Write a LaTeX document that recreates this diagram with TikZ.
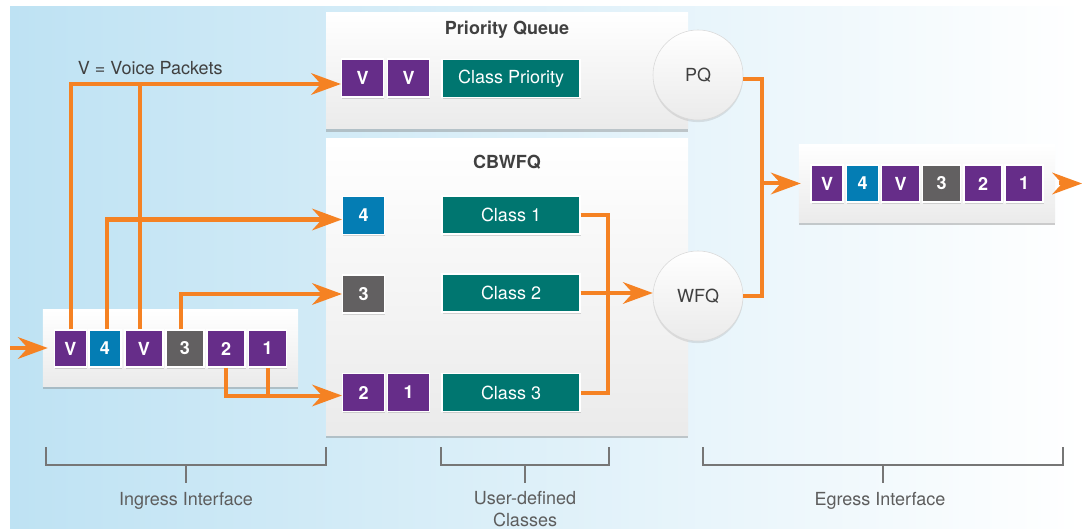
\documentclass[tikz,border=0pt]{standalone}
\usepackage{fontspec}
\setmainfont{TeX Gyre Heros}
\usetikzlibrary{arrows.meta}
\usetikzlibrary{shadows}

\definecolor{fondo}{RGB}{190,226,243}
\definecolor{morado}{RGB}{102,45,137}
\definecolor{azul}{RGB}{4,125,180}
\definecolor{gris}{RGB}{98,96,97}
\definecolor{verde}{RGB}{0,118,112}
\definecolor{naranja}{RGB}{245,130,35}
\definecolor{texto}{RGB}{64,64,64}
\definecolor{raya}{RGB}{118,118,118}

\newcommand{\letra}{\fontsize{12.8}{15.6}\selectfont}

\begin{document}
\begin{tikzpicture}[x=0.025cm,y=-0.025cm]
\tikzstyle{paquete}=[draw=white,line width=0.9pt,minimum height=0.925cm,text=white,font=\letra\bfseries,drop shadow={opacity=0.3,shadow xshift=0.6pt,shadow yshift=-1.2pt}]
\tikzstyle{chico}=[paquete,minimum width=0.8cm]
\tikzstyle{grande}=[paquete,minimum width=0.95cm]
\tikzstyle{cola}=[paquete,minimum width=1.05cm,minimum height=0.95cm]
\tikzstyle{clase}=[paquete,fill=verde,minimum width=3.45cm,minimum height=0.95cm,font=\letra]
\tikzstyle{contenedor}=[top color=white,bottom color=black!8,drop shadow={opacity=0.4,shadow xshift=0pt,shadow yshift=-2pt}]
\tikzstyle{circulo}=[circle,minimum size=2.25cm,draw=black!15,top color=white,bottom color=black!8,text=texto,font=\letra,drop shadow={opacity=0.2,shadow xshift=0pt,shadow yshift=-1.5pt}]
\tikzstyle{flecha}=[draw=naranja,line width=0.1cm,-{Stealth[length=0.75cm,width=0.55cm,inset=0.25cm,line width=0pt]}]
\tikzstyle{linea}=[draw=naranja,line width=0.1cm]
\tikzstyle{corchete}=[draw=raya,line width=1.1pt]
\tikzstyle{etiqueta}=[text=texto!85,font=\letra,align=center,inner sep=0pt]

% fondo
\useasboundingbox (0,0) rectangle (1082,530);
\fill[white] (0,0) rectangle (1082,530);
\shade[left color=fondo,right color=white] (10,7) rectangle (1082,528);

% colas
\shade[contenedor] (326,13) rectangle (688,129);
\node[font=\letra\bfseries,text=texto] (tpq) at (507,30) {Priority Queue};
\shade[contenedor] (326,139) rectangle (688,435);
\node[font=\letra\bfseries,text=texto] (tcb) at (507,162) {CBWFQ};

\node[contenedor,minimum width=6.375cm,minimum height=1.9cm] (ingreso) at (170.5,348) {};
\node[contenedor,minimum width=6.4cm,minimum height=1.925cm] (egreso) at (927,183.5) {};

% paquetes de entrada
\node[chico,fill=morado] (e1) at (70.5,348.5) {V};
\node[chico,fill=azul] (e2) at (105,348.5) {4};
\node[grande,fill=morado] (e3) at (144,348.5) {V};
\node[grande,fill=gris] (e4) at (185,348.5) {3};
\node[grande,fill=morado] (e5) at (226,348.5) {2};
\node[grande,fill=morado] (e6) at (267.5,348.5) {1};

% paquetes de salida
\node[chico,fill=morado] (s1) at (827,183.5) {V};
\node[chico,fill=azul] (s2) at (862.5,183.5) {4};
\node[grande,fill=morado] (s3) at (900.5,183.5) {V};
\node[grande,fill=gris] (s4) at (941.5,183.5) {3};
\node[grande,fill=morado] (s5) at (983,183.5) {2};
\node[grande,fill=morado] (s6) at (1024,183.5) {1};

% priority queue
\node[cola,fill=morado] (pv1) at (362.5,78) {V};
\node[cola,fill=morado] (pv2) at (408.5,78) {V};
\node[clase] (cp) at (511,78.5) {Class Priority};

% cbwfq
\node[cola,fill=azul] (q4) at (363.5,215.5) {4};
\node[cola,fill=gris] (q3) at (363.5,294) {3};
\node[cola,fill=morado] (q2) at (363.5,392.5) {2};
\node[cola,fill=morado] (q1) at (408.5,392.5) {1};
\node[clase] (k1) at (511,215) {Class 1};
\node[clase] (k2) at (511,293) {Class 2};
\node[clase] (k3) at (511,392.5) {Class 3};

\node[circulo] (pq) at (698,75) {PQ};
\node[circulo] (wfq) at (698,296) {WFQ};

\node[anchor=west,text=texto,font=\letra] (leyenda) at (73,68) {V = Voice Packets};

% flechas
\coordinate (entrada) at (10,348);
\draw[flecha] (entrada) -- ([xshift=0.125cm]ingreso.west);

\coordinate (vpq) at ([yshift=-0.15cm]pv1.west);
\draw[flecha] (e1.north) |- (vpq);
\draw[linea] ([xshift=-0.1cm]e3.north) -- ([xshift=-0.1cm]e3.north |- vpq);

\coordinate (v4) at ([yshift=-0.1cm]q4.west);
\draw[flecha] ([xshift=0.05cm]e2.north) |- (v4);
\draw[flecha] ([xshift=-0.1cm]e4.north) |- (q3.west);

\coordinate (v21) at ([yshift=-0.075cm]q2.west);
\draw[flecha] (e5.south) |- (v21);
\draw[linea] (e6.south) -- (e6.south |- v21);

\coordinate (bus) at (608,300);
\draw[linea] (k1.east) -| (bus) |- (k3.east);
\draw[flecha] (k2.east) -- (k2.east -| wfq.west);

\coordinate (union) at (762,183.5);
\draw[linea] ([yshift=-0.1cm]pq.east) -| (union) |- (wfq.east);
\draw[flecha] (union) -- ([xshift=0.05cm]egreso.west);
\coordinate (salida) at (1082,183.5);
\draw[flecha] ([xshift=0.08cm]egreso.east) -- (salida);

% corchetes
\draw[corchete] (46,447) -- (46,465) -- (326,465) -- (326,447);
\draw[corchete] (186,465) -- (186,483);
\node[etiqueta] (ing) at (186,501) {Ingress Interface};
\draw[corchete] (441,447) -- (441,465) -- (609,465) -- (609,447);
\draw[corchete] (525,465) -- (525,483);
\node[etiqueta,anchor=north] (usr) at (525,491) {User-defined\\Classes};
\draw[corchete] (703,447) -- (703,465) -- (1063,465) -- (1063,447);
\draw[corchete] (883,465) -- (883,483);
\node[etiqueta] (egr) at (880,501) {Egress Interface};
\end{tikzpicture}
\end{document}
